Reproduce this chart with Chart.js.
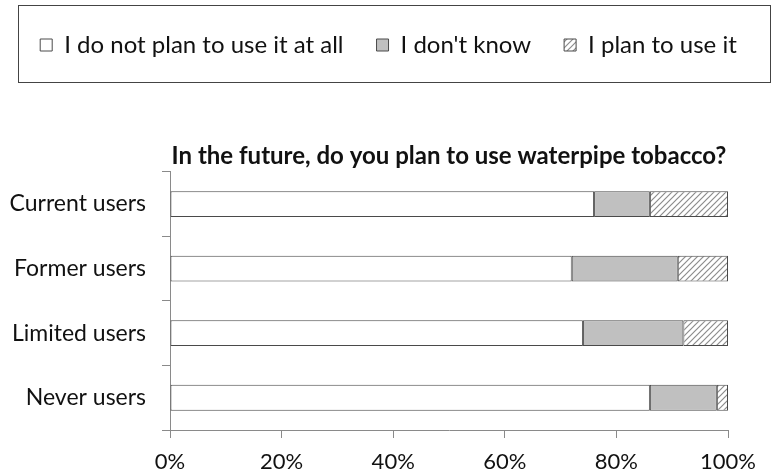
<!doctype html>
<html>
<head>
<meta charset="utf-8">
<title>Waterpipe tobacco plans</title>
<script src="https://cdn.jsdelivr.net/npm/chart.js@4/dist/chart.umd.min.js"></script>
<style>
  html, body { margin: 0; padding: 0; background: #fff; }
  #holder { width: 777px; height: 473px; }
</style>
</head>
<body>
<div id="holder"><canvas id="chart-area"></canvas></div>
<script>
// data (percent of each group)
var groups = ['Current users', 'Former users', 'Limited users', 'Never users'];
var seriesNames = ['I do not plan to use it at all', "I don't know", 'I plan to use it'];
var notPlan = [76, 72, 74, 86];
var dontKnow = [10, 19, 18, 12];
var planTo = [14, 9, 8, 2];
var xTicks = [0, 20, 40, 60, 80, 100];
var titleText = 'In the future, do you plan to use waterpipe tobacco?';

var fontFam = 'Lato, "Open Sans", sans-serif';

function makeHatch() {
  var c = document.createElement('canvas');
  c.width = 6; c.height = 6;
  var g = c.getContext('2d');
  g.fillStyle = '#fff';
  g.fillRect(0, 0, 6, 6);
  g.strokeStyle = '#8c8c8c';
  g.lineWidth = 1.2;
  g.beginPath();
  g.moveTo(-1, 7); g.lineTo(7, -1);
  g.moveTo(-4, 4); g.lineTo(4, -4);
  g.moveTo(2, 10); g.lineTo(10, 2);
  g.stroke();
  return g.createPattern(c, 'repeat');
}

// box round the legend
var legendBox = {
  id: 'legendBox',
  afterDraw: function(chart) {
    var ctx = chart.ctx;
    ctx.save();
    ctx.strokeStyle = '#444';
    ctx.lineWidth = 1;
    ctx.strokeRect(18.5, 5.5, 752, 77);
    ctx.restore();
  }
};

var hatch = makeHatch();
var common = { borderColor: '#4a4a4a', borderWidth: 1, borderSkipped: false, barPercentage: 0.4, categoryPercentage: 1 };

var config = {
  type: 'bar',
  data: {
    labels: groups,
    datasets: [
      Object.assign({ label: seriesNames[0], data: notPlan, backgroundColor: '#ffffff' }, common),
      Object.assign({ label: seriesNames[1], data: dontKnow, backgroundColor: '#c0c0c0' }, common),
      Object.assign({ label: seriesNames[2], data: planTo, backgroundColor: hatch }, common)
    ]
  },
  options: {
    indexAxis: 'y',
    responsive: true,
    maintainAspectRatio: false,
    animation: false,
    layout: { padding: 0 },
    plugins: {
      legend: {
        position: 'top',
        weight: 3000,
        labels: {
          boxWidth: 12, boxHeight: 12, padding: 33,
          color: '#111',
          font: { family: fontFam, size: 24 }
        }
      },
      title: {
        display: true,
        text: titleText,
        fullSize: false,
        color: '#111',
        font: { family: fontFam, size: 24, weight: 'bold' },
        padding: { top: 75, bottom: 1 }
      },
      tooltip: { enabled: false }
    },
    scales: {
      x: {
        stacked: true,
        min: 0, max: 100,
        afterBuildTicks: function(axis) { axis.ticks = xTicks.map(function(v) { return { value: v }; }); },
        // keep room on the right like the original plot
        afterFit: function(axis) { axis.paddingRight = 49; axis.height = 43; },
        border: { color: '#8a8a8a', width: 1 },
        grid: { drawOnChartArea: false, tickLength: 8, color: '#8a8a8a' },
        ticks: {
          color: '#111', padding: 11,
          font: { family: fontFam, size: 22 },
          callback: function(v) { return v + '%'; }
        }
      },
      y: {
        stacked: true,
        afterFit: function(axis) { axis.width = 170; },
        border: { color: '#8a8a8a', width: 1 },
        grid: { offset: true, drawOnChartArea: false, tickLength: 8, color: '#8a8a8a' },
        ticks: { color: '#111', padding: 16, font: { family: fontFam, size: 23 } }
      }
    }
  },
  plugins: [legendBox]
};

window.onload = function() {
  var ctx = document.getElementById('chart-area').getContext('2d');
  window.myBar = new Chart(ctx, config);
};
</script>
</body>
</html>
